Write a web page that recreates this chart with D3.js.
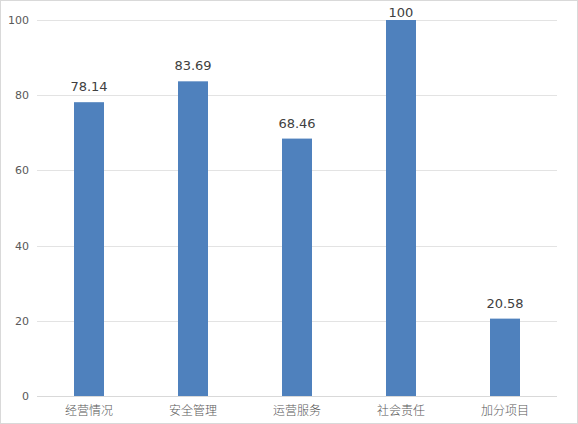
<!DOCTYPE html>
<html><head><meta charset="utf-8">
<script src="https://cdn.jsdelivr.net/npm/d3@7"></script>
<style>body{margin:0;background:#fff}svg{display:block}</style>
</head><body>
<script>
const categories = ["经营情况","安全管理","运营服务","社会责任","加分项目"];
const values = [78.14, 83.69, 68.46, 100, 20.58];
const labels = ["78.14","83.69","68.46","100","20.58"];
const yTicks = [0,20,40,60,80,100];

const W = 578, H = 424;
const m = {left:37, right:21, top:20, bottom:28};
const svg = d3.select("body").append("svg").attr("width",W).attr("height",H);
svg.append("rect").attr("x",0.5).attr("y",0.5).attr("width",W-1).attr("height",H-1)
  .attr("fill","#fff").attr("stroke","#d9d9d9");

const x = d3.scaleBand().domain(categories).range([m.left, W-m.right]);
const y = d3.scaleLinear().domain([0,100]).range([H-m.bottom, m.top]);

const g = svg.append("g");
g.selectAll("line.grid").data(yTicks.filter(t=>t>0)).join("line")
  .attr("x1",m.left).attr("x2",W-m.right)
  .attr("y1",d=>Math.round(y(d))+0.5).attr("y2",d=>Math.round(y(d))+0.5)
  .attr("stroke","#e3e3e3");

const yAxis = d3.axisLeft(y).tickValues(yTicks).tickSize(0).tickPadding(8);
const ya = svg.append("g").attr("transform",`translate(${m.left},0)`).call(yAxis);
ya.select(".domain").remove();
ya.selectAll("text").attr("fill","#595959").attr("font-family","DejaVu Sans, sans-serif").attr("font-size","11px");

const bw = 30;
g.selectAll("rect.bar").data(values).join("rect")
  .attr("x",(d,i)=>x(categories[i])+x.bandwidth()/2-bw/2)
  .attr("width",bw)
  .attr("y",d=>y(d)).attr("height",d=>y(0)-y(d))
  .attr("fill","#4f81bd");

g.selectAll("text.val").data(values).join("text")
  .attr("x",(d,i)=>x(categories[i])+x.bandwidth()/2)
  .attr("y",d=>Math.max(y(d)-11, 17))
  .attr("text-anchor","middle")
  .attr("fill","#404040").attr("font-family","DejaVu Sans, sans-serif").attr("font-size","13px")
  .text((d,i)=>labels[i]);

const xAxis = d3.axisBottom(x).tickSize(0).tickPadding(10);
const xa = svg.append("g").attr("transform",`translate(0,${y(0)})`).call(xAxis);
xa.select(".domain").attr("stroke","#d9d9d9").attr("d",`M${m.left},0.5H${W-m.right}`);
xa.selectAll("text").attr("fill","#595959").attr("font-family","Noto Sans CJK SC, sans-serif").attr("font-weight","300").attr("font-size","12px");
</script>
</body></html>
